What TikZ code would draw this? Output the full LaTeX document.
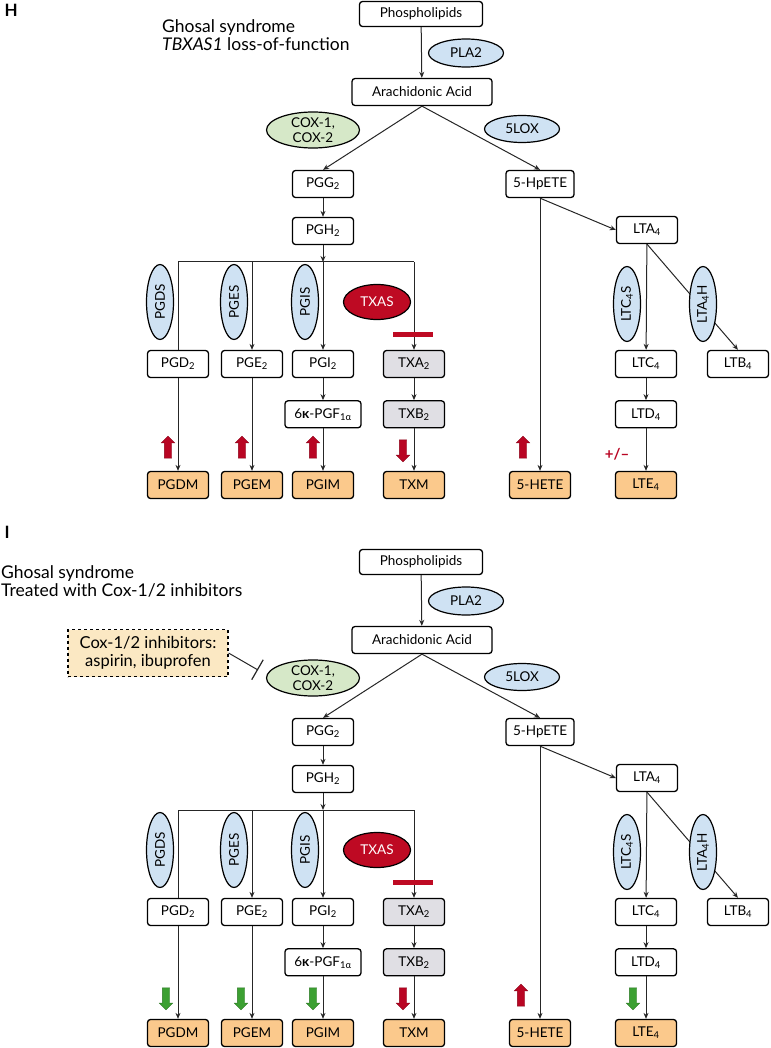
\documentclass[tikz,border=0pt]{standalone}
\usepackage{fontspec}
\setmainfont{Lato}
\usetikzlibrary{arrows.meta,shapes.geometric,shapes.arrows,positioning}

\definecolor{enzblue}{RGB}{207,226,243}
\definecolor{coxgreen}{RGB}{214,232,200}
\definecolor{txasred}{RGB}{190,10,35}
\definecolor{arrred}{RGB}{185,5,35}
\definecolor{arrgreen}{RGB}{60,160,50}
\definecolor{outorange}{RGB}{251,201,140}
\definecolor{txgray}{RGB}{224,223,228}
\definecolor{inhcream}{RGB}{251,232,195}

\tikzset{
  mol/.style={draw, rounded corners=3pt, line width=1.3pt, minimum width=61pt,
    minimum height=27pt, inner sep=2pt, fill=white},
  outmol/.style={mol, fill=outorange},
  txmol/.style={mol, fill=txgray},
  enz/.style={ellipse, draw, line width=1.2pt, fill=enzblue, inner sep=0pt},
  venz/.style={enz, minimum width=75pt, minimum height=27pt, rotate=90},
  conn/.style={-{Stealth[length=6pt,width=5pt]}, line width=1pt, draw=black!85},
  plain/.style={line width=1pt, draw=black!85},
  tbar/.style={fill=txasred, minimum width=40pt, minimum height=5pt, inner sep=0pt},
  bigarr/.style={single arrow, draw=#1!75!black, fill=#1, line width=0.4pt,
    minimum height=22pt, inner sep=3.5pt, single arrow head extend=3pt,
    single arrow head indent=0pt},
  uparr/.style={bigarr=#1, shape border rotate=90},
  dnarr/.style={bigarr=#1, shape border rotate=270}
}

\begin{document}
\begin{tikzpicture}[x=1pt, y=-1pt, font=\fontsize{13.5}{15}\selectfont]
  \useasboundingbox (0,0) rectangle (770,1048);

  % panel H
  \node[anchor=base west, font=\bfseries\fontsize{17}{20}\selectfont] (hlbl) at (1,17) {H};
  \node[anchor=north west, align=left, inner sep=0pt, font=\fontsize{17.5}{18}\selectfont] (httl) at (162,19)
    {Ghosal syndrome\\\textit{TBXAS1} loss-of-function};

  \node[mol, minimum width=123pt, minimum height=25pt] (hphos) at (421,14) {Phospholipids};
  \node[mol, minimum width=140pt] (hara) at (422,92) {Arachidonic Acid};
  \node[mol] (hpgg) at (323,184) {PGG\textsubscript{2}};
  \node[mol, minimum width=68pt] (hhpete) at (540,184) {5-HpETE};
  \node[mol] (hpgh) at (323,231) {PGH\textsubscript{2}};
  \node[mol] (hlta) at (647,230) {LTA\textsubscript{4}};
  \node[mol] (hpgd) at (178,364) {PGD\textsubscript{2}};
  \node[mol] (hpge) at (252,364) {PGE\textsubscript{2}};
  \node[mol] (hpgi) at (323,364) {PGI\textsubscript{2}};
  \node[txmol] (htxa) at (414,364) {TXA\textsubscript{2}};
  \node[mol] (hltc) at (646,364) {LTC\textsubscript{4}};
  \node[mol] (hltb) at (738,364) {LTB\textsubscript{4}};
  \node[mol, minimum width=76pt, below=22pt of hpgi] (h6k) {6\textbf{κ}-PGF\textsubscript{1α}};
  \node[txmol, below=22pt of htxa] (htxb) {TXB\textsubscript{2}};
  \node[mol, below=22pt of hltc] (hltd) {LTD\textsubscript{4}};
  \node[outmol] (hpgdm) at (178,485) {PGDM};
  \node[outmol] (hpgem) at (252,485) {PGEM};
  \node[outmol] (hpgim) at (323,485) {PGIM};
  \node[outmol] (htxm) at (414,485) {TXM};
  \node[outmol] (hhete) at (540,485) {5-HETE};
  \node[outmol] (hlte) at (646,485) {LTE\textsubscript{4}};

  \coordinate (hl) at (178,262);
  \coordinate (hr) at (414,262);
  \draw[conn] (hphos) -- (hara);
  \draw[conn] (hara.south) -- (hpgg.north);
  \draw[conn] (hara.south) -- (hhpete.north);
  \draw[conn] (hpgg) -- (hpgh);
  \draw[plain] (hpgd) -- (hl) -- (hr);
  \draw[conn] (hr) -- (htxa);
  \draw[conn] (hpge |- hl) -- (hpge);
  \draw[conn] (hpgh) -- (hpgh |- hl);
  \draw[conn] (hpgh |- hl) -- (hpgi);
  \draw[conn] (hpgi) -- (h6k);
  \draw[conn] (h6k) -- (hpgim);
  \draw[conn] (hpgd) -- (hpgdm);
  \draw[conn] (hpge) -- (hpgem);
  \draw[conn] (htxa) -- (htxb);
  \draw[conn] (htxb) -- (htxm);
  \draw[conn] (hhpete.south) -- (hlta.west);
  \draw[conn] (hhpete) -- (hhete);
  \draw[conn] (hlta) -- (hltc);
  \draw[conn] (hlta.south) -- (hltb.north);
  \draw[conn] (hltc) -- (hltd);
  \draw[conn] (hltd) -- (hlte);

  \node[enz, minimum width=75pt, minimum height=28pt] (hpla) at (466,53) {PLA2};
  \node[enz, fill=coxgreen, minimum width=93pt, minimum height=36pt, align=center] (hcox) at (313,130) {COX-1,\\COX-2};
  \node[enz, minimum width=75pt, minimum height=27pt] (hlox) at (522,129) {5LOX};
  \node[venz] (hpgds) at (160,302) {PGDS};
  \node[venz] (hpges) at (234,302) {PGES};
  \node[venz] (hpgis) at (305,302) {PGIS};
  \node[enz, fill=txasred, text=white, minimum width=67pt, minimum height=35pt] (htxas) at (377,302) {TXAS};
  \node[tbar] (hblk) at (413,334) {};
  \node[venz] (hltcs) at (627,304) {LTC\textsubscript{4}S};
  \node[venz] (hltah) at (703,304) {LTA\textsubscript{4}H};

  \node[uparr=arrred] (ha1) at (168,449) {};
  \node[uparr=arrred] (ha2) at (242,449) {};
  \node[uparr=arrred] (ha3) at (313,449) {};
  \node[dnarr=arrred] (ha4) at (403,449) {};
  \node[uparr=arrred] (ha5) at (523,449) {};
  \node[text=arrred, font=\bfseries\fontsize{15}{17}\selectfont] (hpm) at (617,454) {+/–};

  % panel I
  \node[anchor=base west, font=\bfseries\fontsize{17}{20}\selectfont] (ilbl) at (1,538) {I};
  \node[anchor=north west, align=left, inner sep=0pt, font=\fontsize{17.5}{18}\selectfont] (ittl) at (1,565)
    {Ghosal syndrome\\Treated with Cox-1/2 inhibitors};

  \begin{scope}[yshift=-548pt]
  \node[mol, minimum width=123pt, minimum height=25pt] (iphos) at (421,14) {Phospholipids};
  \node[mol, minimum width=140pt] (iara) at (422,92) {Arachidonic Acid};
  \node[mol] (ipgg) at (323,184) {PGG\textsubscript{2}};
  \node[mol, minimum width=68pt] (ihpete) at (540,184) {5-HpETE};
  \node[mol] (ipgh) at (323,231) {PGH\textsubscript{2}};
  \node[mol] (ilta) at (647,230) {LTA\textsubscript{4}};
  \node[mol] (ipgd) at (178,364) {PGD\textsubscript{2}};
  \node[mol] (ipge) at (252,364) {PGE\textsubscript{2}};
  \node[mol] (ipgi) at (323,364) {PGI\textsubscript{2}};
  \node[txmol] (itxa) at (414,364) {TXA\textsubscript{2}};
  \node[mol] (iltc) at (646,364) {LTC\textsubscript{4}};
  \node[mol] (iltb) at (738,364) {LTB\textsubscript{4}};
  \node[mol, minimum width=76pt, below=22pt of ipgi] (i6k) {6\textbf{κ}-PGF\textsubscript{1α}};
  \node[txmol, below=22pt of itxa] (itxb) {TXB\textsubscript{2}};
  \node[mol, below=22pt of iltc] (iltd) {LTD\textsubscript{4}};
  \node[outmol] (ipgdm) at (178,485) {PGDM};
  \node[outmol] (ipgem) at (252,485) {PGEM};
  \node[outmol] (ipgim) at (323,485) {PGIM};
  \node[outmol] (itxm) at (414,485) {TXM};
  \node[outmol] (ihete) at (540,485) {5-HETE};
  \node[outmol] (ilte) at (646,485) {LTE\textsubscript{4}};
  \node[draw, dashed, line width=1.1pt, fill=inhcream, minimum width=160pt, minimum height=47pt,
    align=center, font=\fontsize{16.5}{18}\selectfont] (iinh) at (148,105) {Cox-1/2 inhibitors:\\aspirin, ibuprofen};

  \coordinate (il) at (178,262);
  \coordinate (ir) at (414,262);
  \coordinate (itee) at (258,122);
  \draw[conn] (iphos) -- (iara);
  \draw[conn] (iara.south) -- (ipgg.north);
  \draw[conn] (iara.south) -- (ihpete.north);
  \draw[conn] (ipgg) -- (ipgh);
  \draw[plain] (ipgd) -- (il) -- (ir);
  \draw[conn] (ir) -- (itxa);
  \draw[conn] (ipge |- il) -- (ipge);
  \draw[conn] (ipgh) -- (ipgh |- il);
  \draw[conn] (ipgh |- il) -- (ipgi);
  \draw[conn] (ipgi) -- (i6k);
  \draw[conn] (i6k) -- (ipgim);
  \draw[conn] (ipgd) -- (ipgdm);
  \draw[conn] (ipge) -- (ipgem);
  \draw[conn] (itxa) -- (itxb);
  \draw[conn] (itxb) -- (itxm);
  \draw[conn] (ihpete.south) -- (ilta.west);
  \draw[conn] (ihpete) -- (ihete);
  \draw[conn] (ilta) -- (iltc);
  \draw[conn] (ilta.south) -- (iltb.north);
  \draw[conn] (iltc) -- (iltd);
  \draw[conn] (iltd) -- (ilte);
  \draw[plain, -{Bar[width=23pt, line width=1.2pt]}] (iinh.east) -- (itee);

  \node[enz, minimum width=75pt, minimum height=28pt] (ipla) at (466,53) {PLA2};
  \node[enz, fill=coxgreen, minimum width=93pt, minimum height=36pt, align=center] (icox) at (313,130) {COX-1,\\COX-2};
  \node[enz, minimum width=75pt, minimum height=27pt] (ilox) at (522,129) {5LOX};
  \node[venz] (ipgds) at (160,302) {PGDS};
  \node[venz] (ipges) at (234,302) {PGES};
  \node[venz] (ipgis) at (305,302) {PGIS};
  \node[enz, fill=txasred, text=white, minimum width=67pt, minimum height=35pt] (itxas) at (377,302) {TXAS};
  \node[tbar] (iblk) at (413,334) {};
  \node[venz] (iltcs) at (627,304) {LTC\textsubscript{4}S};
  \node[venz] (iltah) at (703,304) {LTA\textsubscript{4}H};

  \node[dnarr=arrgreen] (ia1) at (166,449) {};
  \node[dnarr=arrgreen] (ia2) at (241,449) {};
  \node[dnarr=arrgreen] (ia3) at (313,449) {};
  \node[dnarr=arrred] (ia4) at (403,449) {};
  \node[uparr=arrred] (ia5) at (521,449) {};
  \node[dnarr=arrgreen] (ia6) at (633,449) {};
  \end{scope}
\end{tikzpicture}
\end{document}
